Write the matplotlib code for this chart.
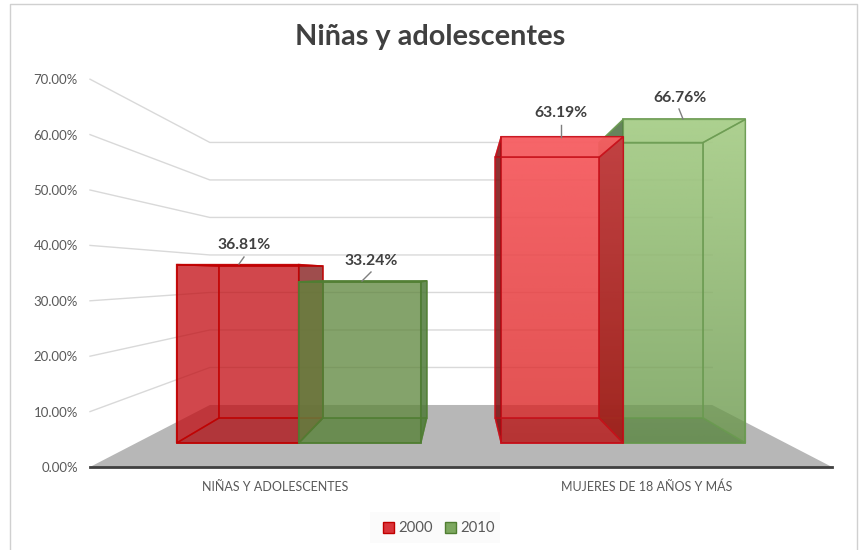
import matplotlib
matplotlib.use('Agg')
from matplotlib import pyplot as plt
from matplotlib.colors import to_rgb
from matplotlib.patches import Polygon, Rectangle
import numpy as np

categories = ['NIÑAS Y ADOLESCENTES', 'MUJERES DE 18 AÑOS Y MÁS']
series_names = ['2000', '2010']
values_2000 = [36.81, 63.19]
values_2010 = [33.24, 66.76]
y_ticks = [0, 10, 20, 30, 40, 50, 60, 70]

# perspective of the fake 3d box, in figure pixels
X_LEFT, X_RIGHT = 90, 832
Y_ZERO, PX_PER_UNIT = 467, 5.54
VX, VY = 461, 275
S_BACK, S_BAR_FRONT, S_BAR_BACK = 0.677, 0.875, 0.745
BAR_SHARE = 0.376

FONT = ['Lato', 'DejaVu Sans']
TEXT = '#595959'

fig = plt.figure(figsize=(8.6, 5.5), dpi=100)
ax = fig.add_axes([0, 0, 1, 1])
ax.axis('off')


def project(x, value, s):
    y = Y_ZERO - value * PX_PER_UNIT
    return VX + s * (x - VX), VY + s * (y - VY)


def draw_face(points, fill, edge, alpha, z, lw=1.3, edge_alpha=0.9):
    ax.add_patch(Polygon(points, closed=True, facecolor=fill, alpha=alpha,
                         edgecolor='none', zorder=z))
    ax.add_patch(Polygon(points, closed=True, fill=False, edgecolor=edge,
                         linewidth=lw, alpha=edge_alpha, zorder=z + 0.01))


def draw_bar(x0, x1, value, style, z):
    fill, edge, dark, outer_left, glow, inner_alpha = style
    fb0, fb1 = project(x0, 0, S_BAR_FRONT), project(x1, 0, S_BAR_FRONT)
    ft0, ft1 = project(x0, value, S_BAR_FRONT), project(x1, value, S_BAR_FRONT)
    bb0, bb1 = project(x0, 0, S_BAR_BACK), project(x1, 0, S_BAR_BACK)
    bt0, bt1 = project(x0, value, S_BAR_BACK), project(x1, value, S_BAR_BACK)

    # the side seen from outside is the dark one
    left_fill, left_alpha = (dark, 0.85) if outer_left else (fill, 0.05)
    right_fill, right_alpha = (dark, inner_alpha) if outer_left else (dark, 0.85)

    draw_face([fb0, fb1, ft1, ft0], fill, edge, 0.75, z)
    if glow:
        # group on the right fades to a lighter tone towards its top
        shade = np.ones((256, 1, 4))
        shade[:, 0, :3] = to_rgb(glow)
        shade[:, 0, 3] = np.linspace(0.8, 0, 256)
        clip = Polygon([fb0, fb1, ft1, ft0], closed=True, transform=ax.transData)
        img = ax.imshow(shade, extent=(fb0[0], fb1[0], fb0[1], ft0[1]), aspect='auto',
                        origin='upper', zorder=z + 0.05)
        img.set_clip_path(clip)

    top_alpha = 0.03 if glow else 0.55
    draw_face([bb0, bb1, bt1, bt0], fill, edge, 0.05, z + 0.1, lw=1.1, edge_alpha=0.75)
    draw_face([fb0, bb0, bt0, ft0], left_fill, edge, left_alpha, z + 0.2, lw=1.1, edge_alpha=0.75)
    draw_face([fb1, bb1, bt1, ft1], right_fill, edge, right_alpha, z + 0.2, lw=1.1, edge_alpha=0.75)
    draw_face([fb0, fb1, bb1, bb0], dark, edge, 0.28, z + 0.2, lw=1.1, edge_alpha=0.75)
    draw_face([ft0, ft1, bt1, bt0], fill, edge, top_alpha, z + 0.2, lw=1.1, edge_alpha=0.75)
    return ft0, ft1, bt0, bt1


# walls
for tick in y_ticks[1:]:
    front = project(X_LEFT, tick, 1)
    back = project(X_LEFT, tick, S_BACK)
    end = project(X_RIGHT, tick, S_BACK)
    ax.plot([front[0], back[0], end[0]], [front[1], back[1], end[1]],
            color='#d9d9d9', lw=1, zorder=1)

floor = [project(X_LEFT, 0, 1), project(X_RIGHT, 0, 1),
         project(X_RIGHT, 0, S_BACK), project(X_LEFT, 0, S_BACK)]
ax.add_patch(Polygon(floor, closed=True, facecolor='#b7b7b7', edgecolor='none', zorder=2))
ax.plot([X_LEFT, X_RIGHT], [Y_ZERO, Y_ZERO], color='#404040', lw=2, zorder=3)

group_width = (X_RIGHT - X_LEFT) / len(categories)
# fill, edge, dark side, outer side on the left, top glow, alpha of the far side
red_styles = [('#c30f15', '#c00000', '#8f3030', False, None, 0.05),
              ('#d71c1c', '#c8101a', '#7a1010', True, '#ff6e73', 0.4)]
green_styles = [('#5f873d', '#507e32', '#4f7a3a', False, None, 0.05),
                ('#659444', '#6a9a50', '#4a6f40', True, '#b9dc9b', 0.02)]
# leader lines and label centres
leaders = [[(239, 264, 244, 257), (362, 281, 371, 272)],
           [(561, 137, 561, 125), (683, 119, 679, 109)]]
label_pos = [[(244, 245), (371, 261)], [(561, 113), (680, 98)]]
# on the right of the vanishing point the red bar stands in front of the green one
draw_order = [(0, 1), (1, 0)]

for i, cat in enumerate(categories):
    centre = X_LEFT + group_width * (i + 0.5)
    width = group_width * BAR_SHARE
    bars = [(centre - width, centre, values_2000[i], red_styles[i]),
            (centre, centre + width, values_2010[i], green_styles[i])]
    for rank, b in enumerate(draw_order[i]):
        x0, x1, value, style = bars[b]
        draw_bar(x0, x1, value, style, 5 + i * 5 + rank * 2)

    for b, value in enumerate((values_2000[i], values_2010[i])):
        xa, ya, xb, yb = leaders[i][b]
        ax.plot([xa, xb], [ya, yb], color='#7f7f7f', lw=1, zorder=20)
        lx, ly = label_pos[i][b]
        ax.text(lx, ly, f'{value:.2f}%', ha='center', va='center',
                fontsize=11.3, fontweight='bold', color='#404040', family=FONT, zorder=21)

    ax.text(centre, 487, cat, ha='center', va='center', fontsize=9,
            color=TEXT, family=FONT)

for tick in y_ticks:
    ax.text(78, Y_ZERO - tick * PX_PER_UNIT + 1, f'{tick:.2f}%', ha='right', va='center',
            fontsize=9.5, color=TEXT, family=FONT)

ax.text(430, 36.5, 'Niñas y adolescentes', ha='center', va='center', fontsize=20.8,
        fontweight='bold', color='#404040', family=FONT)

# legend
ax.add_patch(Rectangle((370, 512), 130, 31, facecolor='#fbfbfb', edgecolor='none', zorder=1))
for name, x, fill, edge in ((series_names[0], 383, '#d9343a', '#c00000'),
                            (series_names[1], 445, '#7da860', '#507e32')):
    ax.add_patch(Rectangle((x, 522), 10.5, 10.5, facecolor=fill, edgecolor=edge, lw=1, zorder=5))
    ax.text(x + 15, 527.5, name, ha='left', va='center', fontsize=10.7, color=TEXT, family=FONT)

# frame
ax.plot([10, 10, 857, 857], [550, 4, 4, 550], color='#d0d0d0', lw=1, zorder=0)

ax.set_xlim(0, 860)
ax.set_ylim(550, 0)

fig.savefig('out.png', dpi=100)
